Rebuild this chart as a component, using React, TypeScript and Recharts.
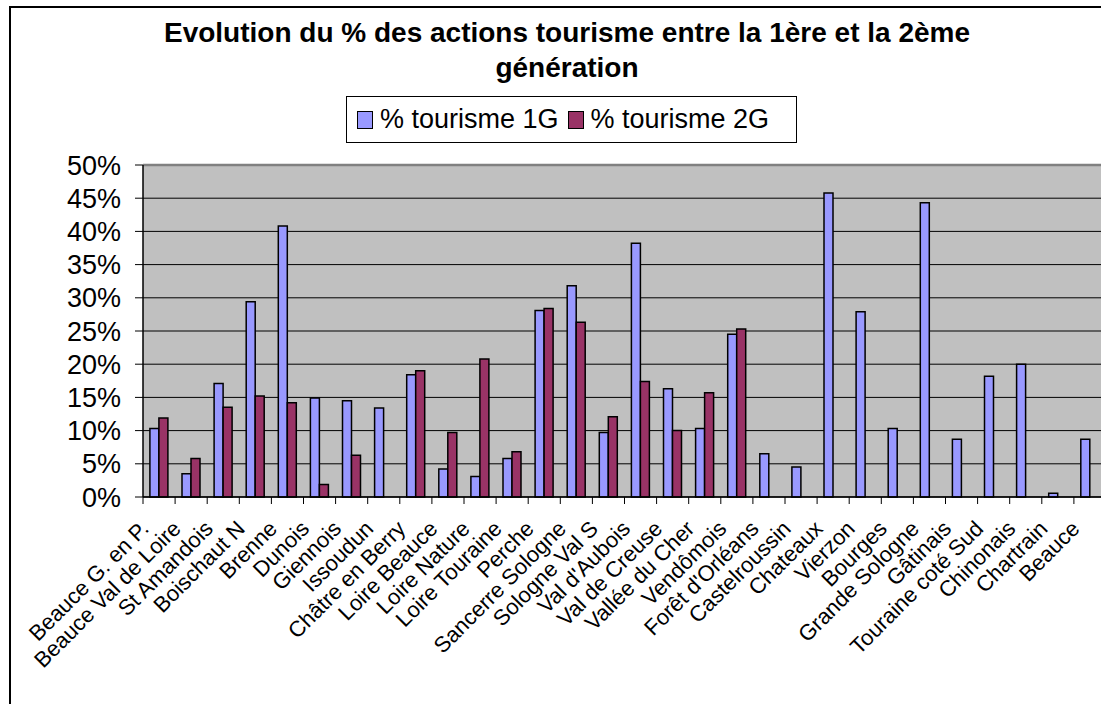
import {
  BarChart,
  Bar,
  XAxis,
  YAxis,
  CartesianGrid,
  Legend,
  ReferenceLine,
} from 'recharts';

// Régions (axe X)
const categories = [
  'Beauce G. en P.',
  'Beauce Val de Loire',
  'St Amandois',
  'Boischaut N',
  'Brenne',
  'Dunois',
  'Giennois',
  'Issoudun',
  'Châtre en Berry',
  'Loire Beauce',
  'Loire Nature',
  'Loire Touraine',
  'Perche',
  'Sancerre Sologne',
  'Sologne Val S',
  "Val d'Aubois",
  'Val de Creuse',
  'Vallée du Cher',
  'Vendômois',
  "Forêt d'Orléans",
  'Castelroussin',
  'Chateaux',
  'Vierzon',
  'Bourges',
  'Grande Sologne',
  'Gâtinais',
  'Touraine coté Sud',
  'Chinonais',
  'Chartrain',
  'Beauce',
];

// % tourisme, 1ère génération
const tourisme1G = [
  10.3, 3.5, 17.1, 29.4, 40.8, 14.9, 14.5, 13.4, 18.4, 4.2, 3.1, 5.8, 28.1,
  31.8, 9.7, 38.2, 16.3, 10.3, 24.5, 6.5, 4.5, 45.8, 27.9, 10.3, 44.3, 8.7,
  18.2, 20.0, 0.55, 8.7,
];

// % tourisme, 2ème génération (null = pas de valeur)
const tourisme2G = [
  11.9, 5.8, 13.5, 15.2, 14.2, 1.9, 6.3, null, 19.0, 9.7, 20.8, 6.8, 28.4,
  26.3, 12.1, 17.4, 10.0, 15.7, 25.3, null, null, null, null, null, null, null,
  null, null, null, null,
];

const yTicks = [0, 5, 10, 15, 20, 25, 30, 35, 40, 45, 50];

const series = [
  { key: 'g1', name: '% tourisme 1G', color: '#9999FF' },
  { key: 'g2', name: '% tourisme 2G', color: '#993366' },
];

const data = categories.map((name, i) => ({
  name,
  g1: tourisme1G[i],
  g2: tourisme2G[i],
}));

const FONT = '"Liberation Sans", Arial, sans-serif';

function CategoryTick(props: any) {
  const { x, y, payload, index } = props;
  const off = payload && payload.offset ? payload.offset : 16;
  const tx = x - 9;
  const ty = y + 33;
  return (
    <g>
      <line x1={x - off} y1={y} x2={x - off} y2={y + 7} stroke="#000" />
      {index === categories.length - 1 && (
        <line x1={x + off} y1={y} x2={x + off} y2={y + 7} stroke="#000" />
      )}
      <text
        x={tx}
        y={ty}
        textAnchor="end"
        fontSize={22}
        fontFamily={FONT}
        fill="#000"
        transform={`rotate(-45, ${tx}, ${ty})`}
      >
        {payload.value}
      </text>
    </g>
  );
}

function LegendBox() {
  return (
    <div
      style={{
        boxSizing: 'border-box',
        width: 451,
        height: 47,
        border: '1px solid #000',
        background: '#fff',
        display: 'flex',
        alignItems: 'center',
        paddingLeft: 10,
        fontFamily: FONT,
        fontSize: 27,
        color: '#000',
        whiteSpace: 'nowrap',
      }}
    >
      {series.map((s) => (
        <div
          key={s.key}
          style={{ display: 'flex', alignItems: 'center', marginRight: 9 }}
        >
          <span
            style={{
              display: 'inline-block',
              boxSizing: 'border-box',
              width: 16,
              height: 18,
              background: s.color,
              border: '1.5px solid #000',
              marginRight: 7,
            }}
          />
          <span>{s.name}</span>
        </div>
      ))}
    </div>
  );
}

export default function App() {
  return (
    <div
      style={{
        position: 'fixed',
        left: 0,
        top: 0,
        width: 1101,
        height: 704,
        overflow: 'hidden',
        background: '#fff',
      }}
    >
      {/* cadre du graphique */}
      <div
        style={{
          position: 'absolute',
          left: 9,
          top: 6,
          width: 1120,
          height: 740,
          border: '2px solid #000',
        }}
      />

      {/* titre */}
      <div
        style={{
          position: 'absolute',
          left: 10,
          top: 15,
          width: 1114,
          textAlign: 'center',
          fontFamily: FONT,
          fontWeight: 'bold',
          fontSize: 28,
          lineHeight: '35px',
          color: '#000',
        }}
      >
        Evolution du % des actions tourisme entre la 1ère et la 2ème
        <br />
        génération
      </div>

      <div style={{ position: 'absolute', left: 0, top: 0 }}>
        <BarChart
          width={1130}
          height={704}
          data={data}
          margin={{ top: 165, right: 24, bottom: 7, left: 0 }}
          barCategoryGap="21.5%"
          barGap={0}
        >
          <CartesianGrid
            vertical={false}
            stroke="#000"
            fill="#C0C0C0"
            strokeWidth={1}
          />
          <XAxis
            dataKey="name"
            interval={0}
            height={200}
            tickLine={false}
            tickSize={0}
            tickMargin={0}
            axisLine={{ stroke: '#000', strokeWidth: 1.5 }}
            tick={<CategoryTick />}
          />
          <YAxis
            width={143}
            domain={[0, 50]}
            ticks={yTicks}
            interval={0}
            tickFormatter={(v: number) => `${v}%`}
            tickSize={8}
            tickMargin={14}
            tickLine={{ stroke: '#000' }}
            axisLine={{ stroke: '#000', strokeWidth: 1.5 }}
            tick={{ fill: '#000', fontSize: 27, fontFamily: FONT }}
          />
          <ReferenceLine y={50} stroke="#808080" strokeWidth={2.5} />
          <Legend
            layout="horizontal"
            verticalAlign="middle"
            wrapperStyle={{ left: 346, top: 96, width: 451, height: 47 }}
            content={() => <LegendBox />}
          />
          {series.map((s) => (
            <Bar
              key={s.key}
              dataKey={s.key}
              name={s.name}
              fill={s.color}
              stroke="#000"
              strokeWidth={1.5}
              isAnimationActive={false}
            />
          ))}
        </BarChart>
      </div>
    </div>
  );
}
